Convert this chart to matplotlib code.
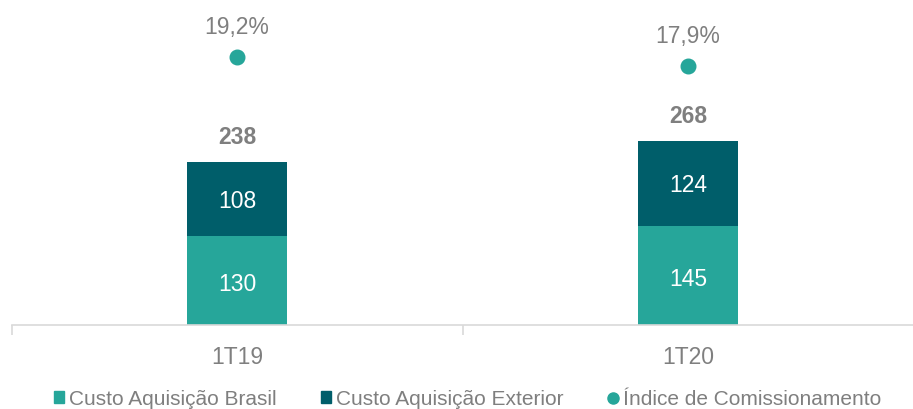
import matplotlib.pyplot as plt
from matplotlib.lines import Line2D
from matplotlib.patches import Patch

plt.rcParams['font.family'] = ['Liberation Sans', 'DejaVu Sans']

# Data
periods = ['1T19', '1T20']
brasil = [130, 145]
exterior = [108, 124]
totals = [238, 268]
indice = [19.2, 17.9]
indice_labels = ['19,2%', '17,9%']

c_brasil = '#26A69A'
c_ext = '#005E6A'
c_dot = '#26A69A'
gray = '#7F7F7F'

fig = plt.figure(figsize=(9.13, 4.09), dpi=100)
ax = fig.add_axes([11.5 / 913, 84 / 409, 902 / 913, 325 / 409])

x = range(len(periods))
w = 0.222
ax.bar(x, brasil, w, color=c_brasil)
ax.bar(x, exterior, w, bottom=brasil, color=c_ext)

for i in x:
    ax.text(i, brasil[i] / 2 - 6, str(brasil[i]), ha='center', va='center',
            color='white', fontsize=16.5)
    ax.text(i, brasil[i] + exterior[i] / 2 - 4, str(exterior[i]), ha='center',
            va='center', color='white', fontsize=16.5)
    tot = brasil[i] + exterior[i]
    ax.text(i, tot + 35, str(totals[i]), ha='center', va='center', color=gray,
            fontsize=16.5, fontweight='bold')

ax.set_xlim(-0.5, 1.5)
ax.set_ylim(0, 474)
ax.set_yticks([])
for s in ['top', 'right', 'left']:
    ax.spines[s].set_visible(False)
ax.spines['bottom'].set_color('#D9D9D9')
ax.spines['bottom'].set_linewidth(1.2)
ax.set_xticks([-0.5, 0.5, 1.5], minor=False)
ax.set_xticklabels(['', '', ''])
ax.tick_params(axis='x', length=7, color='#D9D9D9', width=1.2)
for i, p in enumerate(periods):
    ax.text(i, -47, p, ha='center', va='center', color=gray, fontsize=16.5)

ax2 = ax.twinx()
ax2.set_ylim(-19.53, 27.43)
ax2.scatter(list(x), indice, s=110, color=c_dot, zorder=3)
for i in x:
    ax2.text(i, indice[i] + 4.3, indice_labels[i], ha='center', va='center',
             color=gray, fontsize=16.5)
ax2.set_yticks([])
ax2.axis('off')

handles = [
    Patch(color=c_brasil, label='Custo Aquisição Brasil'),
    Patch(color=c_ext, label='Custo Aquisição Exterior'),
    Line2D([], [], marker='o', linestyle='none', color=c_dot, markersize=8,
           label='Índice de Comissionamento'),
]
leg = fig.legend(handles=handles, loc='lower center', ncol=3, frameon=False,
                 bbox_to_anchor=(0.512, -0.045), fontsize=15, handlelength=0.5,
                 handleheight=0.5, handletextpad=0.25, columnspacing=2.1)
for t in leg.get_texts():
    t.set_color(gray)

fig.savefig('out.png', dpi=100)
